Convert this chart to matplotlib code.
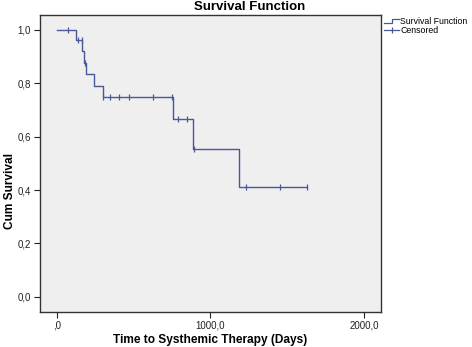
import numpy as np
import matplotlib
matplotlib.use("Agg")
import matplotlib.pyplot as plt
from matplotlib.lines import Line2D

plt.rcParams['font.family'] = ['Liberation Sans', 'DejaVu Sans']

# Kaplan-Meier steps (time in days, cumulative survival after the event)
event_days = [0, 128, 167, 180, 189, 245, 299, 759, 889, 1188]
event_surv = [1.0, 0.963, 0.920, 0.877, 0.834, 0.790, 0.747, 0.665, 0.554, 0.413]
last_day = 1629

# censored observations
censor_days = [75, 141, 163, 182, 303, 347, 405, 472, 629, 752, 787, 846, 892, 1232, 1453, 1629]

xticks = [0, 1000, 2000]
xtick_labels = [",0", "1000,0", "2000,0"]
yticks = [0.0, 0.2, 0.4, 0.6, 0.8, 1.0]
ytick_labels = ["0,0", "0,2", "0,4", "0,6", "0,8", "1,0"]

line_col = "#4b5896"

fig = plt.figure(figsize=(4.72, 3.47), dpi=100)
ax = fig.add_axes([39.5/472, 35/347, 341.5/472, 297/347])
ax.set_facecolor("#efefef")

t = event_days + [last_day]
s = event_surv + [event_surv[-1]]
ax.step(t, s, where='post', color=line_col, lw=1.0)

idx = np.searchsorted(event_days, censor_days, side='right') - 1
cs = [event_surv[i] for i in idx]
ax.plot(censor_days, cs, ls='none', marker='|', ms=5, mew=0.9, color=line_col)

ax.set_xlim(-112, 2110)
ax.set_ylim(-0.057, 1.056)
ax.set_xticks(xticks)
ax.set_xticklabels(xtick_labels)
ax.set_yticks(yticks)
ax.set_yticklabels(ytick_labels)
ax.tick_params(direction='out', length=4, width=0.8, labelsize=7, colors='#222222', pad=2)
for sp in ax.spines.values():
    sp.set_color('#333333')
    sp.set_linewidth(1.0)

W, H = 472.0, 347.0
def fx(px):
    return px / W
def fy(py):
    return 1 - py / H

# titles / labels placed like the SPSS output
fig.text(fx(250), fy(6.5), "Survival Function", fontsize=9.5, fontweight='bold',
         ha='center', va='center')
fig.text(fx(210.5), fy(340), "Time to Systhemic Therapy (Days)", fontsize=8.6,
         fontweight='bold', ha='center', va='center')
fig.text(fx(10.5), fy(191), "Cum Survival", fontsize=8.6, fontweight='bold',
         ha='center', va='center', rotation=90)

# legend drawn by hand (step icon + censored icon)
fig.add_artist(Line2D([fx(384), fx(392), fx(392), fx(399)],
                      [fy(23), fy(23), fy(18.5), fy(18.5)],
                      color=line_col, lw=0.9))
fig.add_artist(Line2D([fx(384), fx(399)], [fy(30), fy(30)], color=line_col, lw=0.9))
fig.add_artist(Line2D([fx(391.5)], [fy(30)], ls='none', marker='|', ms=5,
                      mew=0.9, color=line_col))
fig.text(fx(400.5), fy(21), "Survival Function", fontsize=6.3, va='center', ha='left')
fig.text(fx(400.5), fy(30.5), "Censored", fontsize=6.3, va='center', ha='left')

fig.savefig("out.png", dpi=100)
